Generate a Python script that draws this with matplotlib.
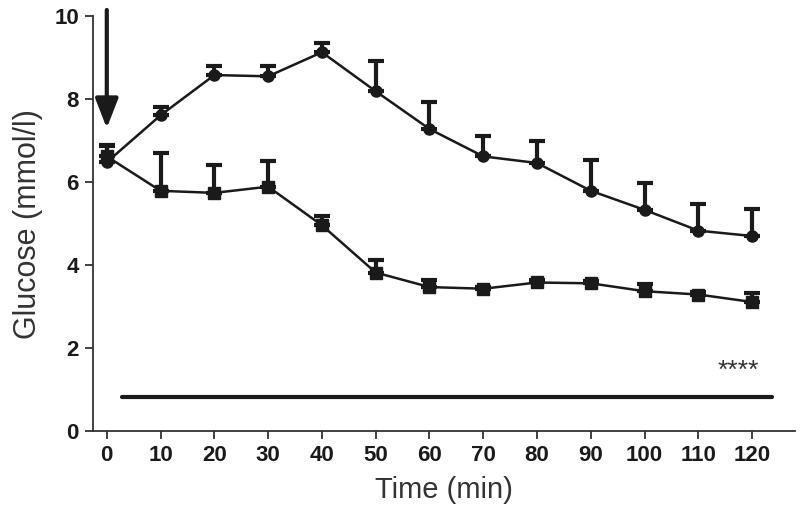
import matplotlib
matplotlib.use("Agg")
import matplotlib.pyplot as plt
from matplotlib import font_manager

# data
time_min = [0, 10, 20, 30, 40, 50, 60, 70, 80, 90, 100, 110, 120]
glucose_circ = [6.48, 7.61, 8.58, 8.55, 9.13, 8.19, 7.28, 6.62, 6.46, 5.79, 5.33, 4.83, 4.70]
err_circ = [0.40, 0.20, 0.23, 0.25, 0.22, 0.72, 0.64, 0.50, 0.53, 0.75, 0.64, 0.65, 0.65]
glucose_sq = [6.62, 5.79, 5.74, 5.89, 4.96, 3.82, 3.47, 3.43, 3.58, 3.56, 3.37, 3.29, 3.11]
err_sq = [0.27, 0.90, 0.68, 0.63, 0.22, 0.30, 0.18, 0.05, 0.05, 0.05, 0.18, 0.06, 0.21]
sig_x = [2.8, 123.6]
sig_y = 0.82
sig_text = "****"
xticks = list(range(0, 121, 10))
yticks = [0, 2, 4, 6, 8, 10]

names = {f.name for f in font_manager.fontManager.ttflist}
fam = "Liberation Sans Narrow" if "Liberation Sans Narrow" in names else "Liberation Sans"
plt.rcParams['font.family'] = [fam, 'DejaVu Sans']

fig = plt.figure(figsize=(8, 5.21), dpi=100)
ax = fig.add_axes([0.116, 0.1727, 0.878, 0.7963])

col = "#1a1a1a"
ax.errorbar(time_min, glucose_circ, yerr=[[0] * len(err_circ), err_circ], fmt='-o',
            color=col, lw=1.8, ms=8, elinewidth=3, capsize=6, capthick=3, zorder=3)
ax.errorbar(time_min, glucose_sq, yerr=[[0] * len(err_sq), err_sq], fmt='-s',
            color=col, lw=1.8, ms=8, elinewidth=3, capsize=6, capthick=3, zorder=3)

ax.plot(sig_x, [sig_y, sig_y], color=col, lw=3, solid_capstyle='round')
ax.text(117.5, sig_y + 0.33, sig_text, ha='center', va='bottom', fontsize=19, color="#333333")

# injection arrow at t = 0
ax.annotate("", xy=(0, 7.3), xytext=(0, 10.15),
            arrowprops=dict(arrowstyle="-|>,head_width=0.7,head_length=1.8",
                            color=col, lw=3, shrinkA=0, shrinkB=0),
            annotation_clip=False)

ax.set_xlim(-2.6, 128)
ax.set_ylim(0, 10)
ax.set_xticks(xticks)
ax.set_yticks(yticks)
ax.spines['top'].set_visible(False)
ax.spines['right'].set_visible(False)
for s in ('left', 'bottom'):
    ax.spines[s].set_linewidth(1.3)
    ax.spines[s].set_color("#333333")
ax.tick_params(direction='out', length=6, width=1.3, colors="#333333", labelsize=16, pad=4)
for lab in ax.get_xticklabels() + ax.get_yticklabels():
    lab.set_fontweight('bold')
    lab.set_color(col)

ax.set_xlabel("Time (min)", fontsize=21, color="#333333", labelpad=7)
ax.set_ylabel("Glucose (mmol/l)", fontsize=22, color="#333333", labelpad=8)

fig.savefig("out.png", dpi=100)
